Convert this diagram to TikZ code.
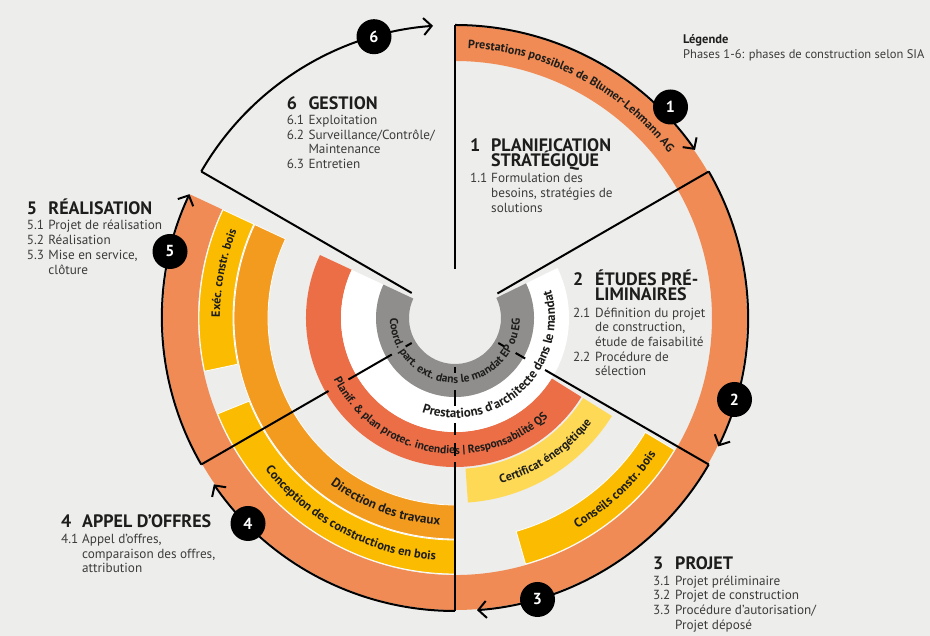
\documentclass[tikz,border=0pt]{standalone}
\usepackage{fontspec}
\setmainfont{PT Sans}
\usetikzlibrary{decorations.text,arrows.meta}
\definecolor{bg}{HTML}{EDEDEB}
\definecolor{cOut}{HTML}{F08B55}
\definecolor{cYel}{HTML}{FABB00}
\definecolor{cDir}{HTML}{F39B1F}
\definecolor{cRed}{HTML}{EC6E47}
\definecolor{cCert}{HTML}{FED955}
\definecolor{cGray}{HTML}{8F8E8C}
\definecolor{txtd}{HTML}{1D1D1B}
\definecolor{txtg}{HTML}{3C3C3B}
\newcommand\ringband[5]{\fill[#1] (#4:#2pt) arc[start angle=#4,end angle=#5,radius=#2pt] -- (#5:#3pt) arc[start angle=#5,end angle=#4,radius=#3pt] -- cycle;}
\newcommand\ringtext[5]{\path[decorate,decoration={text along path,text align=center,text color=txtd,text={|\fontsize{#1}{14}\selectfont\bfseries|#5}}] (#3:#2pt) arc[start angle=#3,end angle=#4,radius=#2pt];}
\tikzset{
  ln/.style={line width=2pt, black},
  phasearc/.style={line width=2pt, black, -{Straight Barb[length=8pt,width=17pt,line width=2pt]}},
  numc/.style={circle, fill=black, minimum size=35pt, inner sep=0pt, text=white, font=\fontsize{16}{16}\selectfont\bfseries},
  hd/.style={anchor=base west, inner sep=0pt, text=txtd, font=\fontsize{18}{18}\selectfont\bfseries},
  sb/.style={anchor=base west, inner sep=0pt, text=txtg, font=\fontsize{13.2}{15}\selectfont},
  lg/.style={anchor=base west, inner sep=0pt, text=txtg, font=\fontsize{12.5}{14}\selectfont},
  sep/.style={draw=white, line width=0.8pt}
}
\begin{document}
\begin{tikzpicture}[x=1pt,y=1pt]
\useasboundingbox (0,0) rectangle (930,636);
\fill[bg] (0,0) rectangle (930,636);
\begin{scope}[shift={(455,318)}]
  % bands
  \ringband{cOut}{257}{292}{155}{450}
  \ringband{cYel,sep}{222}{256}{155}{192}
  \ringband{cYel,sep}{222}{256}{202}{270}
  \ringband{cYel,sep}{222}{256}{286}{329}
  \ringband{cDir,sep}{187}{221}{155}{270}
  \ringband{cCert}{151}{185}{274}{328}
  \ringband{cRed}{114}{149}{155}{328}
  \ringband{white}{79}{114}{155}{386}
  \ringband{cGray}{46}{79}{155}{386}
  % sector lines
  \draw[ln] (90:49pt) -- (90:293pt);
  \draw[ln] (30:49pt) -- (30:293pt);
  \draw[ln] (150:50pt) -- (150:293pt);
  \draw[ln] (-30:50pt) -- (-30:57pt);
  \draw[ln] (-30:70pt) -- (-30:81pt);
  \draw[ln] (-30:104pt) -- (-30:293pt);
  \draw[ln] (270:49pt) -- (270:55pt);
  \draw[ln] (270:72pt) -- (270:88pt);
  \draw[ln] (270:105pt) -- (270:117pt);
  \draw[ln] (270:125pt) -- (270:138pt);
  \draw[ln] (270:144pt) -- (270:293pt);
  \draw[ln] (210:50pt) -- (210:57pt);
  \draw[ln] (210:73pt) -- (210:123pt);
  \draw[ln] (210:146pt) -- (210:293pt);
  % phase arcs
  \draw[phasearc] (90:293pt) arc[start angle=90,end angle=35,radius=293pt];
  \draw[phasearc] (30:293pt) arc[start angle=30,end angle=-26,radius=293pt];
  \draw[phasearc] (-30:293pt) arc[start angle=-30,end angle=-85.7,radius=293pt];
  \draw[phasearc] (-90:293pt) arc[start angle=-90,end angle=-145.4,radius=293pt];
  \draw[phasearc] (210:293pt) arc[start angle=210,end angle=155,radius=293pt];
  \draw[phasearc] (150:293pt) arc[start angle=150,end angle=94.3,radius=293pt];
  % ring texts
  \ringtext{12}{270}{107.5}{17.5}{Prestations possibles de Blumer-Lehmann AG}
  \ringtext{12}{235}{219}{119}{Exéc. constr. bois}
  \ringtext{13}{208}{199.5}{299.5}{Direction des travaux}
  \ringtext{12.5}{243}{182}{302}{Conception des constructions en bois}
  \ringtext{11.5}{136}{185}{335}{Planif. {\&} plan protec. incendies {\textbar} Responsabilité QS}
  \ringtext{12}{172}{244}{364}{Certificat énergétique}
  \ringtext{12.5}{243}{253}{373}{Conseils constr. bois}
  \ringtext{13}{100}{233.5}{393.5}{Prestations d’architecte dans le mandat}
  \ringtext{11.5}{65}{155}{385}{Coord. part. ext. dans le mandat EP ou EG}
\end{scope}
% number circles
\node[numc] (n1) at (670.5,529) {1};
\node[numc] (n2) at (734.5,236.5) {2};
\node[numc] (n3) at (537.5,36.5) {3};
\node[numc] (n4) at (248,112.5) {4};
\node[numc] (n5) at (170,384.5) {5};
\node[numc] (n6) at (374,599.3) {6};
% phase 1
\node[hd] (h1n) at (470,484) {1};
\node[hd] (h1a) at (491,484) {PLANIFICATION};
\node[hd] (h1b) at (491,469) {STRATÉGIQUE};
\node[sb] (s1n) at (470,453) {1.1};
\node[sb] (s1a) at (491,453) {Formulation des};
\node[sb] (s1b) at (491,438) {besoins, stratégies de};
\node[sb] (s1c) at (491,423) {solutions};
% phase 2
\node[hd] (h2n) at (573,350) {2};
\node[hd] (h2a) at (595,350) {ÉTUDES PRÉ-};
\node[hd] (h2b) at (595,335.3) {LIMINAIRES};
\node[sb] (s2n) at (573,318.7) {2.1};
\node[sb] (s2a) at (595,318.7) {Définition du projet};
\node[sb] (s2b) at (595,304.3) {de construction,};
\node[sb] (s2c) at (595,289.3) {étude de faisabilité};
\node[sb] (s2m) at (573,274.3) {2.2};
\node[sb] (s2d) at (595,274.3) {Procédure de};
\node[sb] (s2e) at (595,260) {sélection};
% phase 3
\node[hd] (h3n) at (653,66) {3};
\node[hd] (h3a) at (675,66) {PROJET};
\node[sb] (s3n1) at (653,50.3) {3.1};
\node[sb] (s3a) at (675,50.3) {Projet préliminaire};
\node[sb] (s3n2) at (653,36) {3.2};
\node[sb] (s3b) at (675,36) {Projet de construction};
\node[sb] (s3n3) at (653,21.7) {3.3};
\node[sb] (s3c) at (675,21.7) {Procédure d’autorisation/};
\node[sb] (s3d) at (675,6.7) {Projet déposé};
% phase 4
\node[hd] (h4n) at (61,108.3) {4};
\node[hd] (h4a) at (82,108.3) {APPEL D’OFFRES};
\node[sb] (s4n) at (61,92.7) {4.1};
\node[sb] (s4a) at (82,92.7) {Appel d’offres,};
\node[sb] (s4b) at (82,77.7) {comparaison des offres,};
\node[sb] (s4c) at (82,63.3) {attribution};
% phase 5
\node[hd] (h5n) at (26.7,421) {5};
\node[hd] (h5a) at (48.3,421) {RÉALISATION};
\node[sb] (s5n1) at (26.7,406) {5.1};
\node[sb] (s5a) at (48.3,406) {Projet de réalisation};
\node[sb] (s5n2) at (26.7,391) {5.2};
\node[sb] (s5b) at (48.3,391) {Réalisation};
\node[sb] (s5n3) at (26.7,376) {5.3};
\node[sb] (s5c) at (48.3,376) {Mise en service,};
\node[sb] (s5d) at (48.3,361) {clôture};
% phase 6
\node[hd] (h6n) at (286.7,526.7) {6};
\node[hd] (h6a) at (308.3,526.7) {GESTION};
\node[sb] (s6n1) at (286.7,511.7) {6.1};
\node[sb] (s6a) at (308.3,511.7) {Exploitation};
\node[sb] (s6n2) at (286.7,496.7) {6.2};
\node[sb] (s6b) at (308.3,496.7) {Surveillance/Contrôle/};
\node[sb] (s6c) at (308.3,482) {Maintenance};
\node[sb] (s6n3) at (286.7,467) {6.3};
\node[sb] (s6d) at (308.3,467) {Entretien};
% legend
\node[lg, font=\fontsize{12.5}{14}\selectfont\bfseries, text=txtd] (lg1) at (683,592) {Légende};
\node[lg] (lg2) at (683,577) {Phases 1-6: phases de construction selon SIA};
\end{tikzpicture}
\end{document}
